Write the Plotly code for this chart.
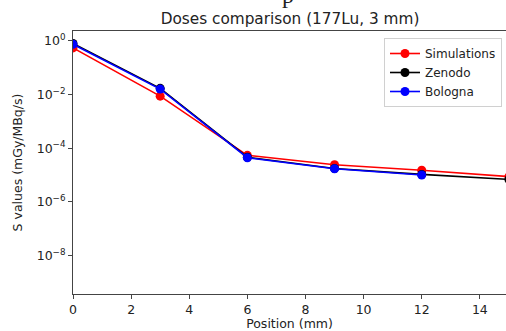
import plotly.graph_objects as go

positions = [0, 3, 6, 9, 12, 15]
simulations = [0.55, 0.0087, 5.4e-5, 2.4e-5, 1.5e-5, 8.7e-6]
zenodo = [0.8, 0.017, 4.6e-5, 1.75e-5, 1.05e-5, 6.8e-6]
bologna_pos = [0, 3, 6, 9, 12]
bologna = [0.75, 0.016, 4.4e-5, 1.7e-5, 1.0e-5]

ytick_vals = [1e-8, 1e-6, 1e-4, 1e-2, 1]
ytick_text = ["10<sup>−8</sup>", "10<sup>−6</sup>", "10<sup>−4</sup>", "10<sup>−2</sup>", "10<sup>0</sup>"]
xtick_vals = [0, 2, 4, 6, 8, 10, 12, 14]

font = "DejaVu Sans, sans-serif"

W, H = 506, 331
L, T, B = 73, 31, 37
plot_h = H - T - B
plot_w = W - L

fig = go.Figure()
for name, xs, ys, col in [("Simulations", positions, simulations, "red"),
                          ("Zenodo", positions, zenodo, "black"),
                          ("Bologna", bologna_pos, bologna, "blue")]:
    fig.add_trace(go.Scatter(x=xs, y=ys, name=name, mode="lines+markers",
                             line=dict(color=col, width=1.6),
                             marker=dict(color=col, size=9)))

fig.update_layout(
    width=W, height=H,
    margin=dict(l=L, r=0, t=T, b=B, autoexpand=False),
    paper_bgcolor="white", plot_bgcolor="white",
    font=dict(family=font, size=12.5, color="#222"),
    title=dict(text="Doses comparison (177Lu, 3 mm)", x=290 / W, xanchor="center",
               y=1 - 19 / H, yanchor="middle", font=dict(size=15.3, color="#222")),
    legend=dict(x=1 - 4 / plot_w, xanchor="right", y=1 - 7 / plot_h, yanchor="top",
                bgcolor="white", bordercolor="#d0d0d0", borderwidth=1,
                font=dict(size=12, color="#222"), tracegroupgap=0, itemwidth=30),
    showlegend=True,
    annotations=[dict(text="p", xref="paper", yref="paper", x=(288 - L) / plot_w,
                      y=1 + (T - 10) / plot_h, yanchor="bottom", xanchor="center",
                      showarrow=False,
                      font=dict(family="Liberation Serif", size=24, color="#222"))],
)

fig.update_xaxes(range=[0, 14.9], tickvals=xtick_vals, showgrid=False, zeroline=False,
                 showline=True, mirror=True, linecolor="#444", linewidth=1, automargin=False,
                 ticks="outside", ticklen=4, tickcolor="#444",
                 title=dict(text="Position (mm)", standoff=4, font=dict(size=12.5)))
fig.update_yaxes(type="log", range=[-9.44, 0.37], tickvals=ytick_vals, ticktext=ytick_text,
                 showgrid=False, zeroline=False, showline=True, mirror=False, automargin=False,
                 linecolor="#444", linewidth=1, ticks="outside", ticklen=4, tickcolor="#444",
                 title=dict(text="S values (mGy/MBq/s)", standoff=11, font=dict(size=12.5)))

fig.write_html("out.html", config={"displayModeBar": False},
               post_script="document.body.style.margin='0px';document.body.style.overflow='hidden';")
